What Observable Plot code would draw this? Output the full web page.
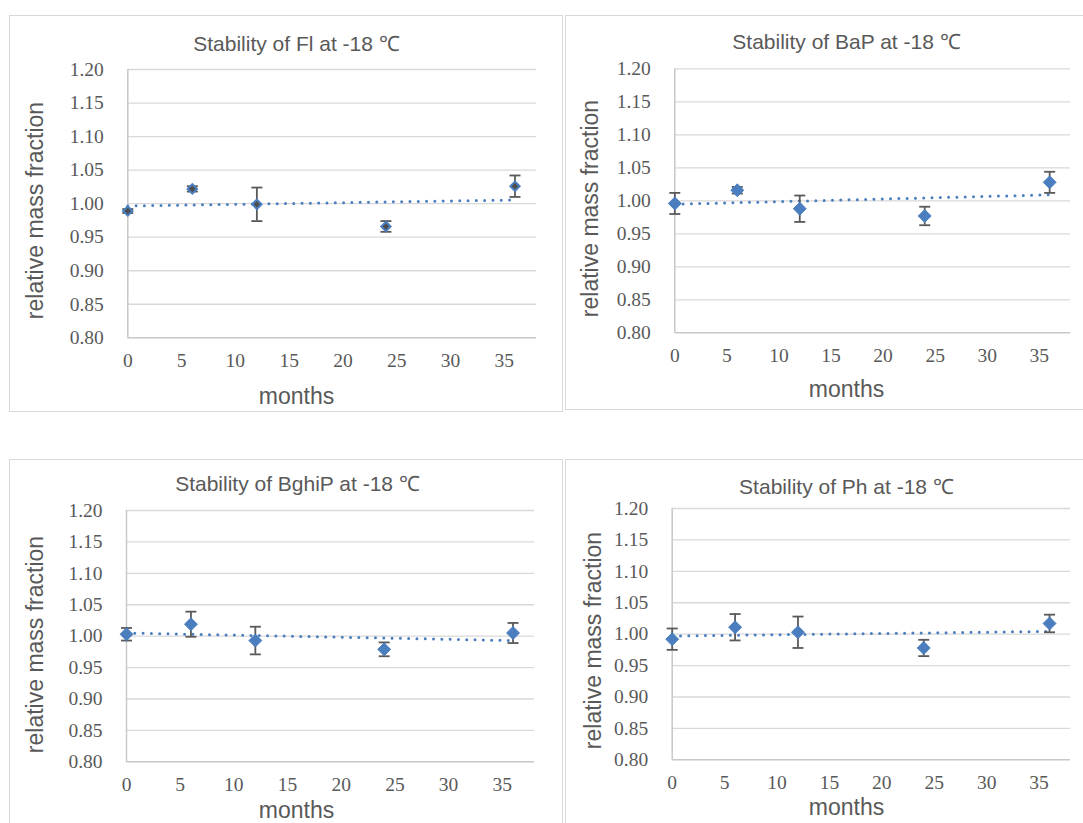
<!DOCTYPE html>
<html><head><meta charset="utf-8">
<script src="https://cdn.jsdelivr.net/npm/d3@7"></script>
<script src="https://cdn.jsdelivr.net/npm/@observablehq/plot@0.6"></script>
<style>
html,body{margin:0;padding:0;background:#fff}
body{width:1083px;height:823px;overflow:hidden;position:relative}
.panel{position:absolute;border:1.5px solid #d9d9d9;box-sizing:border-box;background:#fff}
.chart{position:absolute}
svg.chart [aria-label$="tick label"], svg.chart [aria-label$="tick label"] text{font-family:"Liberation Serif","Times New Roman",serif !important;font-size:19.5px !important}
svg.chart .lbl, svg.chart .lbl text{font-family:"Liberation Sans",Arial,sans-serif !important}
</style></head><body>
<script>
// ---- data ----
const months = [0, 6, 12, 24, 36];
const titles = ["Stability of Fl at -18 ℃", "Stability of BaP at -18 ℃", "Stability of BghiP at -18 ℃", "Stability of Ph at -18 ℃"];
const flValues = [0.989, 1.022, 0.999, 0.966, 1.026];
const flErrors = [0.003, 0.004, 0.025, 0.008, 0.016];
const bapValues = [0.996, 1.016, 0.988, 0.977, 1.028];
const bapErrors = [0.016, 0.005, 0.020, 0.014, 0.016];
const bghipValues = [1.003, 1.019, 0.993, 0.979, 1.005];
const bghipErrors = [0.010, 0.020, 0.022, 0.011, 0.016];
const phValues = [0.992, 1.011, 1.003, 0.978, 1.017];
const phErrors = [0.017, 0.021, 0.025, 0.013, 0.014];
const xTicks = [0, 5, 10, 15, 20, 25, 30, 35];
const yTicks = [0.80, 0.85, 0.90, 0.95, 1.00, 1.05, 1.10, 1.15, 1.20];
const yLabel = "relative mass fraction";
const xLabel = "months";

// ---- layout ----
const BLUE = "#4a7ebf", GREY = "#595959";
const panels = [
  {title: titles[0], values: flValues, errors: flErrors, dark: true,
   box: {x: 9, y: 15, w: 554, h: 397}, left: 127.3, right: 536, top: 69, bottom: 337.3,
   titleC: [296, 44], ylabC: [35, 210], xlabC: [296, 396]},
  {title: titles[1], values: bapValues, errors: bapErrors, dark: false,
   box: {x: 565, y: 15, w: 560, h: 395}, left: 674.3, right: 1070, top: 68.3, bottom: 332.3,
   titleC: [846, 42], ylabC: [590, 208], xlabC: [846, 389]},
  {title: titles[2], values: bghipValues, errors: bghipErrors, dark: false,
   box: {x: 9, y: 459, w: 554, h: 400}, left: 126, right: 534, top: 510, bottom: 761.3,
   titleC: [297, 484], ylabC: [35, 644], xlabC: [296, 810]},
  {title: titles[3], values: phValues, errors: phErrors, dark: false,
   box: {x: 565, y: 459, w: 560, h: 400}, left: 671.7, right: 1070, top: 508, bottom: 759.3,
   titleC: [846, 487], ylabC: [593, 640], xlabC: [846, 807]}
];

const capSymbol = {draw(ctx, size) { const w = Math.sqrt(size / Math.PI); ctx.moveTo(-w, 0); ctx.lineTo(w, 0); }};
const sans = "Liberation Sans";
const serif = "Liberation Serif";

for (const p of panels) {
  const div = document.createElement("div");
  div.className = "panel";
  Object.assign(div.style, {left: p.box.x + "px", top: p.box.y + "px", width: p.box.w + "px", height: p.box.h + "px"});
  document.body.appendChild(div);

  const data = months.map((m, i) => ({m, v: p.values[i], lo: p.values[i] - p.errors[i], hi: p.values[i] + p.errors[i]}));
  const mL = p.left - p.box.x, mR = p.box.x + p.box.w - p.right;
  const mT = p.top - p.box.y, mB = p.box.y + p.box.h - p.bottom;
  const rel = c => ({dx: c[0] - p.left, dy: c[1] - p.top});

  const chart = Plot.plot({
    width: p.box.w, height: p.box.h,
    marginLeft: mL, marginRight: mR, marginTop: mT, marginBottom: mB,
    style: {background: "transparent", overflow: "visible", color: GREY},
    x: {domain: [0, 38]},
    y: {domain: [0.8, 1.2]},
    marks: [
      Plot.gridY(yTicks.slice(1), {stroke: "#d9d9d9", strokeOpacity: 1, strokeWidth: 1.3}),
      Plot.ruleY([yTicks[0]], {stroke: "#c8c8c8", strokeWidth: 1.5}),
      Plot.ruleX([0], {stroke: "#c8c8c8", strokeWidth: 1.5}),
      Plot.axisX(xTicks, {tickSize: 0, tickPadding: 15, label: null, fontSize: 19.5, fontFamily: serif, fill: GREY}),
      Plot.axisY(yTicks, {tickSize: 0, tickPadding: 24, label: null, tickFormat: d3.format(".2f"), fontSize: 19.5, fontFamily: serif, fill: GREY}),
      Plot.linearRegressionY(data, {x: "m", y: "v", ci: 0, stroke: BLUE, strokeWidth: 3, strokeDasharray: "0 8.3", strokeLinecap: "round"}),
      Plot.ruleX(data, {x: "m", y1: "lo", y2: "hi", stroke: GREY, strokeWidth: 1.8}),
      Plot.dot(data, {x: "m", y: "lo", symbol: capSymbol, r: 5.5, fill: "none", stroke: GREY, strokeWidth: 1.8}),
      Plot.dot(data, {x: "m", y: "hi", symbol: capSymbol, r: 5.5, fill: "none", stroke: GREY, strokeWidth: 1.8}),
      Plot.dot(data, {x: "m", y: "v", symbol: "diamond2", r: p.dark ? 4.2 : 5.8,
        fill: p.dark ? "#4d4d4d" : BLUE, stroke: BLUE, strokeWidth: p.dark ? 2 : 1}),
      Plot.text([p.title], {className: "lbl", frameAnchor: "top-left", ...rel(p.titleC), text: d => d, fontSize: 21, fontFamily: sans, fill: GREY, textAnchor: "middle", lineAnchor: "middle"}),
      Plot.text([yLabel], {className: "lbl", frameAnchor: "top-left", ...rel(p.ylabC), text: d => d, rotate: -90, fontSize: 23, fontFamily: sans, fill: GREY, textAnchor: "middle", lineAnchor: "middle"}),
      Plot.text([xLabel], {className: "lbl", frameAnchor: "top-left", ...rel(p.xlabC), text: d => d, fontSize: 23, fontFamily: sans, fill: GREY, textAnchor: "middle", lineAnchor: "middle"})
    ]
  });
  chart.classList.add("chart");
  Object.assign(chart.style, {left: p.box.x + "px", top: p.box.y + "px"});
  document.body.appendChild(chart);
}
</script>
</body></html>
